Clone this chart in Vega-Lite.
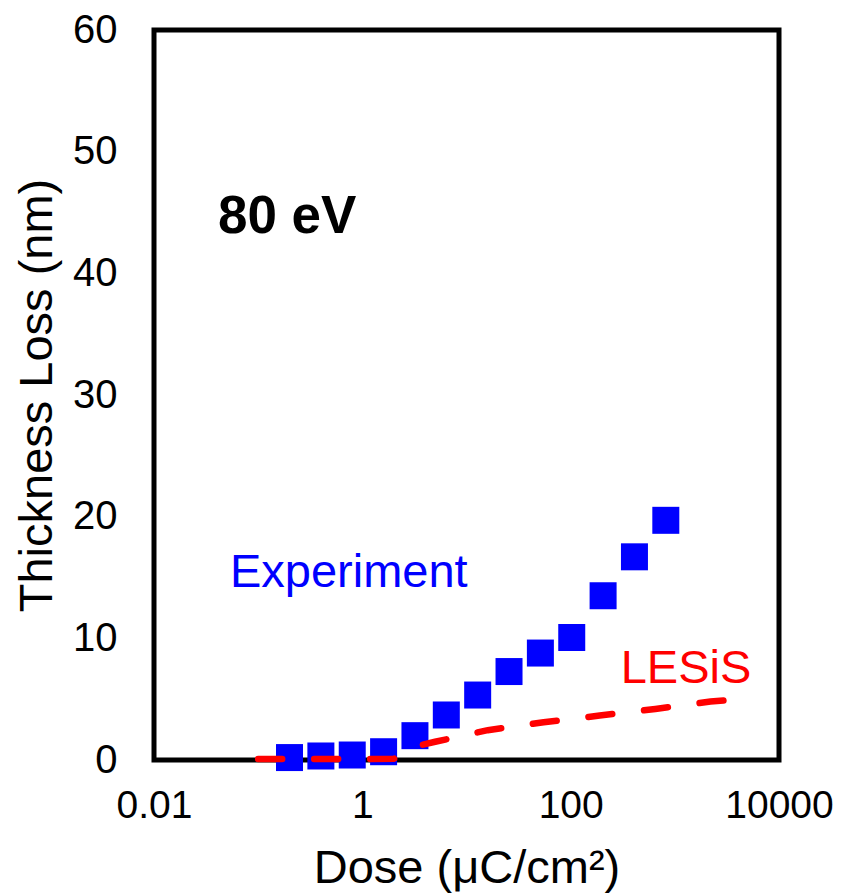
{
  "$schema": "https://vega.github.io/schema/vega-lite/v6.json",
  "autosize": {"type": "none"},
  "width": 625,
  "height": 730,
  "padding": {"left": 154, "top": 30, "right": 62, "bottom": 135},
  "background": "white",
  "config": {
    "font": "Liberation Sans",
    "view": {"stroke": "black", "strokeWidth": 5},
    "axis": {"grid": false, "ticks": false, "domain": false, "labelColor": "black", "titleColor": "black", "labelFont": "Liberation Sans", "titleFont": "Liberation Sans", "titleFontWeight": "normal"}
  },
  "datasets": {
    "experiment": [
      {"dose": 0.2, "loss": 0.2},
      {"dose": 0.4, "loss": 0.33},
      {"dose": 0.8, "loss": 0.41},
      {"dose": 1.6, "loss": 0.68},
      {"dose": 3.2, "loss": 2.0},
      {"dose": 6.4, "loss": 3.7},
      {"dose": 12.8, "loss": 5.34},
      {"dose": 25.6, "loss": 7.27},
      {"dose": 51.2, "loss": 8.79},
      {"dose": 102.4, "loss": 10.07},
      {"dose": 204.8, "loss": 13.5},
      {"dose": 409.6, "loss": 16.7},
      {"dose": 819.2, "loss": 19.7}
    ],
    "lesis": [
      {"dose": 0.1, "loss": 0.08},
      {"dose": 1, "loss": 0.08},
      {"dose": 2, "loss": 0.1},
      {"dose": 3.7, "loss": 1.23},
      {"dose": 5, "loss": 1.5},
      {"dose": 16, "loss": 2.45},
      {"dose": 55, "loss": 3.1},
      {"dose": 190, "loss": 3.65},
      {"dose": 650, "loss": 4.2},
      {"dose": 2200, "loss": 4.8},
      {"dose": 3500, "loss": 4.95}
    ],
    "heading": [
      {"dose": 0.0411, "loss": 43.3, "text": "80 eV"}
    ],
    "labels": [
      {"dose": 0.0536, "loss": 14.2, "text": "Experiment", "kind": "exp"},
      {"dose": 302, "loss": 6.33, "text": "LESiS", "kind": "sim"}
    ]
  },
  "layer": [
    {
      "data": {"name": "experiment"},
      "mark": {"type": "point", "shape": "square", "filled": true, "size": 729, "color": "#0000FF", "opacity": 1},
      "encoding": {
        "x": {
          "field": "dose", "type": "quantitative",
          "scale": {"type": "log", "domain": [0.01, 10000], "nice": false},
          "axis": {"values": [0.01, 1, 100, 10000], "format": "~g", "labelFlush": false, "labelOverlap": false, "labelFontSize": 39, "labelPadding": 26, "title": "Dose (μC/cm²)", "titleFontSize": 47, "titlePadding": 20}
        },
        "y": {
          "field": "loss", "type": "quantitative",
          "scale": {"domain": [0, 60], "nice": false, "zero": true},
          "axis": {"values": [0, 10, 20, 30, 40, 50, 60], "labelFontSize": 40, "labelPadding": 37, "title": "Thickness Loss (nm)", "titleFontSize": 47, "titlePadding": 11}
        }
      }
    },
    {
      "data": {"name": "lesis"},
      "mark": {"type": "line", "color": "#FF0000", "strokeWidth": 6.5, "strokeCap": "round", "strokeDash": [24, 32]},
      "encoding": {
        "x": {"field": "dose", "type": "quantitative"},
        "y": {"field": "loss", "type": "quantitative"}
      }
    },
    {
      "data": {"name": "heading"},
      "mark": {"type": "text", "align": "left", "baseline": "alphabetic", "fontSize": 53, "fontWeight": "bold", "color": "#000000"},
      "encoding": {
        "x": {"field": "dose", "type": "quantitative"},
        "y": {"field": "loss", "type": "quantitative"},
        "text": {"field": "text"}
      }
    },
    {
      "data": {"name": "labels"},
      "mark": {"type": "text", "align": "left", "baseline": "alphabetic", "fontSize": 47},
      "encoding": {
        "x": {"field": "dose", "type": "quantitative"},
        "y": {"field": "loss", "type": "quantitative"},
        "text": {"field": "text"},
        "color": {"field": "kind", "type": "nominal", "scale": {"domain": ["exp", "sim"], "range": ["#0000FF", "#FF0000"]}, "legend": null}
      }
    }
  ]
}
